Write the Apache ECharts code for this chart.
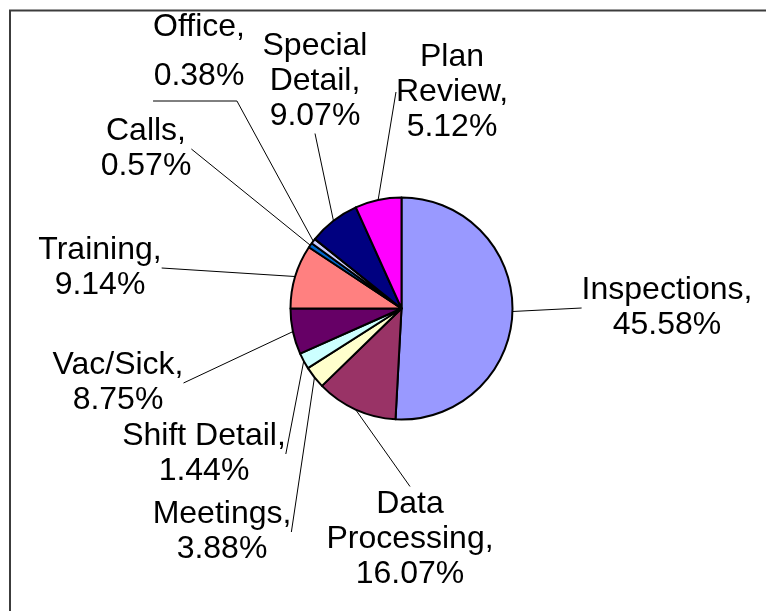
<!DOCTYPE html>
<html>
<head>
<meta charset="utf-8">
<script src="https://cdn.jsdelivr.net/npm/echarts@6/dist/echarts.min.js"></script>
<style>
	html, body { margin: 0; padding: 0; background: #fff; }
	#main { width: 766px; height: 611px; }
</style>
</head>
<body>
<div id="main"></div>
<script>
	// slice sizes as drawn, and the percentages printed on the labels
	var categories = ['Inspections', 'Data\nProcessing', 'Meetings', 'Shift Detail', 'Vac/Sick', 'Training', 'Calls', 'Office', 'Special\nDetail', 'Plan\nReview'];
	var sliceShares = [50.86, 11.86, 3.25, 2.36, 6.67, 9.3, 0.7, 0.75, 7.5, 6.75];
	var labelPercents = ['45.58', '16.07', '3.88', '1.44', '8.75', '9.14', '0.57', '0.38', '9.07', '5.12'];
	var colors = ['#9999ff', '#993366', '#ffffcc', '#ccffff', '#660066', '#ff8080', '#0066cc', '#ccccff', '#000080', '#ff00ff'];

	// label block centres, and the side the leader line meets
	var labelSpots = [
		{x: 667, y: 308, side: 'left'},
		{x: 410, y: 539, side: 'top'},
		{x: 222, y: 532, side: 'right'},
		{x: 204, y: 454, side: 'right'},
		{x: 118, y: 383, side: 'right'},
		{x: 100, y: 268, side: 'right'},
		{x: 146, y: 149, side: 'right'},
		{x: 199, y: 52, side: 'under'},
		{x: 315, y: 81, side: 'bottom'},
		{x: 452, y: 92, side: 'left'}
	];

	var cx = 401.5, cy = 308.5, r = 111;
	var total = sliceShares.reduce(function (a, b) { return a + b; }, 0);

	function rimPoint(idx) {
		var before = 0;
		for (var i = 0; i < idx; i++) before += sliceShares[i];
		var a = (before + sliceShares[idx] / 2) / total * Math.PI * 2;
		return [cx + r * Math.sin(a), cy - r * Math.cos(a)];
	}

	var chart = echarts.init(document.getElementById('main'));

	var pieData = categories.map(function (name, i) {
		var item = {name: name, value: sliceShares[i], itemStyle: {color: colors[i]}};
		if (name === 'Office') item.label = {lineHeight: 49};
		return item;
	});

	var option = {
		animation: false,
		graphic: [{
			type: 'rect',
			shape: {x: 10, y: 10.5, width: 800, height: 700},
			style: {fill: 'none', stroke: '#3c3c3c', lineWidth: 2},
			silent: true
		}],
		series: [{
			type: 'pie',
			center: [cx, cy],
			radius: r,
			startAngle: 90,
			clockwise: true,
			avoidLabelOverlap: false,
			silent: true,
			itemStyle: {borderColor: '#000', borderWidth: 2},
			label: {
				show: true,
				position: 'outside',
				color: '#000',
				fontFamily: '"Liberation Sans", Arial, sans-serif',
				fontSize: 32,
				lineHeight: 35,
				formatter: function (p) {
					return p.name + ',\n' + labelPercents[p.dataIndex] + '%';
				}
			},
			labelLine: {show: true, lineStyle: {color: '#000', width: 1}},
			labelLayout: function (params) {
				var s = labelSpots[params.dataIndex];
				var w = params.labelRect.width, h = params.labelRect.height;
				var start = rimPoint(params.dataIndex);
				var pts;
				if (s.side === 'left') pts = [start, [s.x - w / 2, s.y]];
				else if (s.side === 'right') pts = [start, [s.x + w / 2, s.y]];
				else if (s.side === 'top') pts = [start, [s.x, s.y - h / 2]];
				else if (s.side === 'bottom') pts = [start, [s.x, s.y + h / 2]];
				else pts = [start, [s.x + w / 2 - 8, s.y + h / 2], [s.x - w / 2, s.y + h / 2]];
				return {
					x: s.x,
					y: s.y,
					align: 'center',
					verticalAlign: 'middle',
					labelLinePoints: pts
				};
			},
			data: pieData
		}]
	};

	option && chart.setOption(option);
</script>
</body>
</html>
